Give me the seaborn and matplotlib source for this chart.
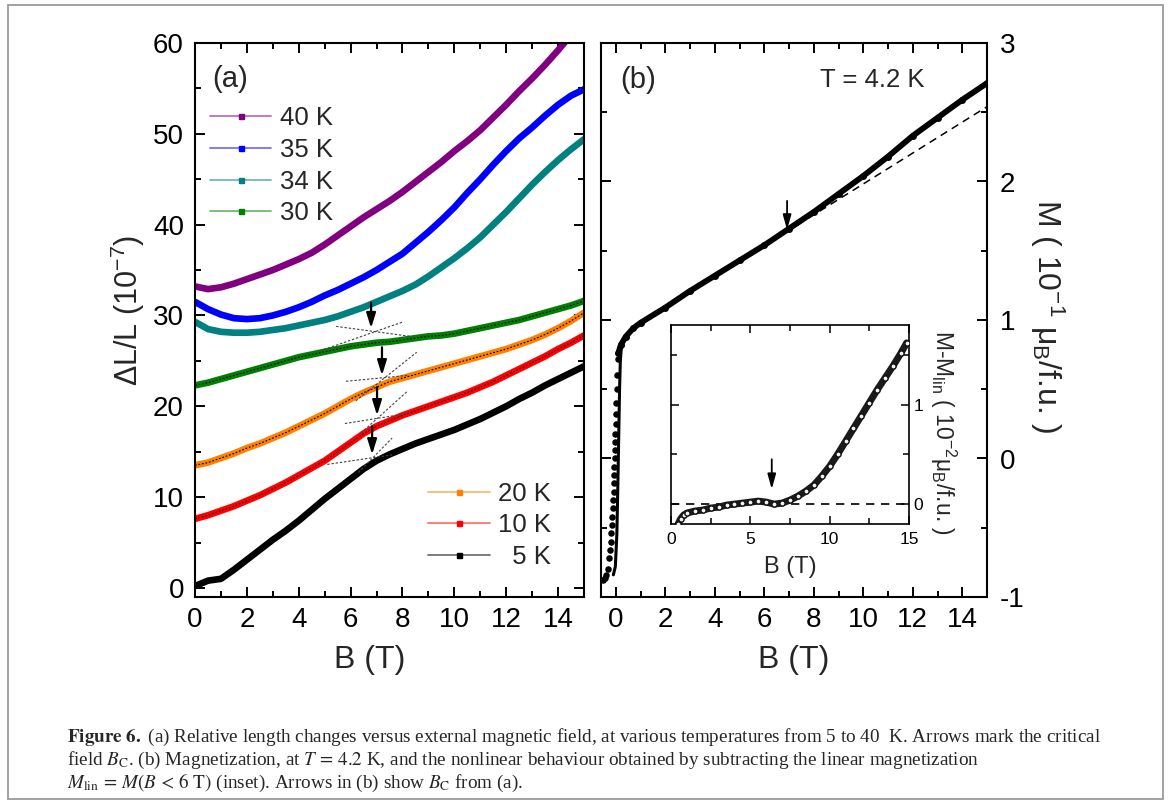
import numpy as np
import pandas as pd
import matplotlib
matplotlib.use("Agg")
import matplotlib.pyplot as plt
import seaborn as sns
from matplotlib.lines import Line2D
from matplotlib.patches import Rectangle
from matplotlib.ticker import MultipleLocator
from matplotlib.colors import to_rgba

# ---------------------------------------------------------------- data
# (a) magnetostriction dL/L (1e-7) versus field B (T)
field_a = [0.0, 0.5, 1.0, 1.5, 2.0, 2.5, 3.0, 3.5, 4.0, 4.5, 5.0, 5.5, 6.0, 6.5, 7.0, 7.5,
           8.0, 8.5, 9.0, 9.5, 10.0, 10.5, 11.0, 11.5, 12.0, 12.5, 13.0, 13.5, 14.0, 14.5, 15.0]
dll_40K = [33.2, 32.9, 33.1, 33.5, 34.0, 34.5, 35.0, 35.6, 36.2, 36.9, 37.8, 38.8, 39.8, 40.8, 41.7, 42.6,
           43.6, 44.7, 45.8, 46.9, 48.1, 49.2, 50.4, 51.8, 53.2, 54.7, 56.1, 57.6, 59.2, 60.9, 62.6]
dll_35K = [31.5, 30.7, 30.1, 29.7, 29.6, 29.7, 30.0, 30.4, 30.9, 31.5, 32.2, 32.8, 33.5, 34.2, 35.0, 35.9,
           36.8, 38.0, 39.2, 40.5, 41.9, 43.5, 45.0, 46.6, 48.1, 49.5, 50.7, 52.0, 53.2, 54.2, 54.9]
dll_34K = [29.3, 28.5, 28.2, 28.1, 28.1, 28.2, 28.4, 28.6, 28.9, 29.2, 29.5, 29.9, 30.4, 30.9, 31.5, 32.1,
           32.7, 33.4, 34.3, 35.3, 36.3, 37.4, 38.6, 40.0, 41.4, 42.9, 44.4, 45.8, 47.1, 48.3, 49.4]
dll_30K = [22.3, 22.6, 23.0, 23.4, 23.8, 24.2, 24.6, 25.0, 25.4, 25.7, 26.0, 26.3, 26.6, 26.8, 27.0, 27.1,
           27.3, 27.5, 27.7, 27.8, 28.0, 28.3, 28.6, 28.9, 29.2, 29.5, 29.9, 30.3, 30.7, 31.1, 31.6]
dll_20K = [13.5, 13.8, 14.3, 14.8, 15.4, 15.9, 16.5, 17.1, 17.8, 18.5, 19.2, 20.0, 20.8, 21.5, 22.1, 22.7,
           23.1, 23.5, 23.9, 24.3, 24.7, 25.1, 25.5, 25.9, 26.3, 26.8, 27.3, 27.9, 28.6, 29.4, 30.3]
dll_10K = [7.6, 8.0, 8.5, 9.0, 9.6, 10.2, 10.9, 11.6, 12.4, 13.2, 14.0, 15.0, 16.0, 17.0, 17.8, 18.4,
           19.0, 19.5, 20.0, 20.5, 21.0, 21.5, 22.1, 22.7, 23.4, 24.1, 24.8, 25.5, 26.3, 27.0, 27.8]
dll_5K = [0.2, 0.8, 1.0, 2.0, 3.1, 4.2, 5.3, 6.3, 7.4, 8.6, 9.8, 10.9, 12.0, 13.1, 14.0, 14.7,
          15.3, 15.9, 16.4, 16.9, 17.4, 18.0, 18.6, 19.3, 20.0, 20.8, 21.5, 22.3, 23.0, 23.7, 24.4]

temp_labels = ["40 K", "35 K", "34 K", "30 K", "20 K", "10 K", "  5 K"]
temp_colors = ["#800080", "#0000ff", "#008080", "#008000", "#ff8000", "#ff0000", "#000000"]
fitted_temps = ["30 K", "20 K", "10 K"]

# critical-field arrows (B, start, end) and tangent construction lines
bc_arrows_a = [(6.79, 31.4, 28.6), (7.21, 26.5, 23.4), (7.02, 22.1, 19.0), (6.83, 17.8, 14.7)]
bc_tangents_a = [
    ((5.44, 8.30), (28.8, 27.7)), ((4.82, 8.03), (26.1, 29.3)),
    ((5.82, 8.20), (22.75, 23.4)), ((6.20, 8.55), (20.6, 25.95)),
    ((5.78, 8.20), (18.1, 19.2)), ((6.40, 8.21), (17.05, 21.7)),
    ((5.10, 7.60), (13.6, 14.65)), ((6.30, 7.60), (12.7, 16.5)),
]

# (b) magnetization M (1e-1 muB/f.u.) at 4.2 K
m_step_b = [-0.50, -0.44, -0.38, -0.32, -0.26, -0.22, -0.20, -0.18, -0.16, -0.14, -0.12, -0.10, -0.09,
            -0.08, -0.07, -0.06, -0.05, -0.04, -0.03, -0.02, -0.01, 0.00, 0.02, 0.04, 0.06, 0.08]
m_step = [-0.88, -0.86, -0.84, -0.80, -0.72, -0.66, -0.60, -0.54, -0.48, -0.42, -0.36, -0.30, -0.24,
          -0.18, -0.12, -0.06, 0.00, 0.06, 0.12, 0.18, 0.25, 0.32, 0.40, 0.50, 0.60, 0.72]
m_rise_b = [-0.10, -0.02, 0.04, 0.08, 0.12, 0.15, 0.18, 0.22]
m_rise = [-0.84, -0.78, -0.55, -0.20, 0.20, 0.50, 0.70, 0.80]
m_main_b = [0.10, 0.20, 0.40, 0.70, 1.0, 2.0, 3.0, 4.0, 5.0, 6.0, 7.0, 8.0, 9.0, 10.0, 11.0, 12.0,
            13.0, 14.0, 15.0]
m_main = [0.76, 0.82, 0.88, 0.94, 0.98, 1.09, 1.21, 1.32, 1.43, 1.54, 1.66, 1.78, 1.91, 2.04, 2.18,
          2.33, 2.46, 2.59, 2.71]
m_lin_b = [2.0, 15.0]
m_lin = [1.09, 2.54]
bc_arrow_b = (6.92, 1.86, 1.65)

# inset: M - M_lin (1e-2 muB/f.u.)
dm_b = [0.45, 0.6, 0.8, 1.0, 1.5, 2.0, 2.5, 3.0, 3.5, 4.0, 4.5, 5.0, 5.5, 6.0, 6.5, 7.0, 7.5, 8.0,
        8.5, 9.0, 9.5, 10.0, 10.5, 11.0, 11.5, 12.0, 12.5, 13.0, 13.5, 14.0, 14.5, 14.85]
dm = [-0.20, -0.15, -0.11, -0.09, -0.07, -0.06, -0.04, -0.03, -0.01, 0.00, 0.01, 0.02, 0.03, 0.02,
      0.00, 0.01, 0.04, 0.08, 0.13, 0.19, 0.28, 0.38, 0.50, 0.63, 0.76, 0.89, 1.02, 1.15, 1.27, 1.39,
      1.52, 1.62]
bc_arrow_in = (6.35, 0.45, 0.15)

caption_lines = [
    r"$\mathbf{Figure\ 6.}$ (a) Relative length changes versus external magnetic field, at various "
    r"temperatures from 5 to 40  K. Arrows mark the critical",
    r"field $B_\mathrm{C}$. (b) Magnetization, at $T\,=\,4.2$ K, and the nonlinear behaviour obtained "
    r"by subtracting the linear magnetization",
    r"$M_\mathrm{lin}\,=\,M(B\,<\,6\ \mathrm{T})$ (inset). Arrows in (b) show $B_\mathrm{C}$ from (a).",
]

# ---------------------------------------------------------------- style
sns.set_style("ticks")
plt.rcParams.update({
    "font.family": ["Liberation Sans", "DejaVu Sans"],
    "mathtext.fontset": "custom",
    "mathtext.rm": "Liberation Sans",
    "mathtext.it": "Liberation Sans:italic",
    "mathtext.bf": "Liberation Sans:bold",
    "axes.unicode_minus": False,
    "axes.linewidth": 1.5,
    "axes.edgecolor": "black",
    "xtick.color": "black",
    "ytick.color": "black",
})

W, H = 1171, 805
fig = plt.figure(figsize=(W / 100, H / 100), dpi=100)
ax_a = fig.add_axes([195 / W, 1 - 597 / H, 389 / W, 554 / H])
ax_b = fig.add_axes([601 / W, 1 - 597 / H, 386 / W, 554 / H])
ax_in = fig.add_axes([671 / W, 1 - 524 / H, 238 / W, 199 / H])


def style_ticks(ax, size, pad):
    ax.tick_params(which="both", direction="in", top=True, right=True, width=1.4,
                   labelsize=size, pad=pad)
    ax.tick_params(which="major", length=7)
    ax.tick_params(which="minor", length=4)


# ---------------------------------------------------------------- panel (a)
series = {"40 K": dll_40K, "35 K": dll_35K, "34 K": dll_34K, "30 K": dll_30K,
          "20 K": dll_20K, "10 K": dll_10K, "  5 K": dll_5K}
df_a = pd.concat([pd.DataFrame({"B": field_a, "dLL": v, "T": k}) for k, v in series.items()],
                 ignore_index=True)

sns.lineplot(data=df_a, x="B", y="dLL", hue="T", hue_order=temp_labels, palette=temp_colors,
             linewidth=4.8, estimator=None, sort=False, legend=False, ax=ax_a)
sns.lineplot(data=df_a[df_a["T"].isin(fitted_temps)], x="B", y="dLL", units="T",
             estimator=None, sort=False, color="black", linewidth=0.8,
             linestyle=(0, (1.6, 1.6)), ax=ax_a)

for (bx, by) in bc_tangents_a:
    ax_a.plot(bx, by, color="#444444", lw=0.8, linestyle=(0, (2.2, 1.6)), zorder=4)
for (b, y0, y1) in bc_arrows_a:
    ax_a.annotate("", xy=(b, y1), xytext=(b, y0),
                  arrowprops=dict(arrowstyle="-|>,head_length=0.9,head_width=0.28",
                                  mutation_scale=10, color="black", lw=1.6,
                                  shrinkA=0, shrinkB=0), zorder=5)

ax_a.set_xlim(0, 15)
ax_a.set_ylim(-1, 60)
ax_a.xaxis.set_major_locator(MultipleLocator(2))
ax_a.xaxis.set_minor_locator(MultipleLocator(1))
ax_a.yaxis.set_major_locator(MultipleLocator(10))
ax_a.yaxis.set_minor_locator(MultipleLocator(5))
style_ticks(ax_a, 20, 7)
ax_a.tick_params(axis="y", pad=8)
ax_a.set_xlabel("")
ax_a.set_ylabel("")
ax_a.text(0.45, -0.114, "B (T)", transform=ax_a.transAxes, ha="center", va="center", fontsize=23)
ax_a.text(-0.172, 0.518, "ΔL/L (10$^{\\mathregular{-7}}$)", transform=ax_a.transAxes,
          rotation=90, ha="center", va="center", fontsize=22)
ax_a.text(0.045, 0.935, "(a)", transform=ax_a.transAxes, ha="left", va="center", fontsize=21)

handles = [Line2D([], [], color=to_rgba(c, 0.55), lw=1.3, marker="s", markersize=3.6,
                  markerfacecolor=c, markeredgecolor=c, label=t)
           for t, c in zip(temp_labels, temp_colors)]
leg_kw = dict(frameon=False, fontsize=18.5, handlelength=2.4, handletextpad=0.32,
              labelspacing=0.30, borderpad=0, borderaxespad=0, loc="upper left")
leg1 = ax_a.legend(handles=handles[:4], bbox_to_anchor=(0.038, 0.886), **leg_kw)
ax_a.add_artist(leg1)
ax_a.legend(handles=handles[4:], bbox_to_anchor=(0.599, 0.208), **leg_kw)

# ---------------------------------------------------------------- panel (b)
sns.lineplot(x=m_lin_b, y=m_lin, color="black", lw=1.1, linestyle=(0, (5, 3.5)),
             estimator=None, sort=False, ax=ax_b)
sns.lineplot(x=m_main_b, y=m_main, color="black", lw=4.2, estimator=None, sort=False,
             marker="o", markersize=5, markeredgewidth=0, ax=ax_b)
sns.lineplot(x=m_rise_b, y=m_rise, color="black", lw=2.2, estimator=None, sort=False, ax=ax_b)
sns.scatterplot(x=m_step_b, y=m_step, color="black", s=22, linewidth=0, ax=ax_b)
b, y0, y1 = bc_arrow_b
ax_b.annotate("", xy=(b, y1), xytext=(b, y0),
              arrowprops=dict(arrowstyle="-|>,head_length=0.9,head_width=0.25",
                              mutation_scale=10, color="black", lw=1.3, shrinkA=0, shrinkB=0))

ax_b.set_xlim(-0.6, 15.0)
ax_b.set_ylim(-1, 3)
ax_b.xaxis.set_major_locator(MultipleLocator(2))
ax_b.xaxis.set_minor_locator(MultipleLocator(1))
ax_b.yaxis.set_major_locator(MultipleLocator(1))
ax_b.yaxis.set_minor_locator(MultipleLocator(0.5))
style_ticks(ax_b, 20, 7)
ax_b.tick_params(axis="y", which="both", labelleft=False, labelright=True, pad=9)
ax_b.set_xlabel("")
ax_b.set_ylabel("")
ax_b.text(0.5, -0.114, "B (T)", transform=ax_b.transAxes, ha="center", va="center", fontsize=23)
ax_b.text(1.155, 0.508, "M ( 10$^{\\mathregular{-1}}$ μ$_{\\mathregular{B}}$/f.u. )",
          transform=ax_b.transAxes, rotation=270, ha="center", va="center", fontsize=23)
ax_b.text(0.05, 0.933, "(b)", transform=ax_b.transAxes, ha="left", va="center", fontsize=21)
ax_b.text(0.567, 0.933, "T = 4.2 K", transform=ax_b.transAxes, ha="left", va="center",
          fontsize=18.5)

# ---------------------------------------------------------------- inset
ax_in.set_facecolor("white")
ax_in.axhline(0, color="black", lw=1.2, linestyle=(0, (5, 4)))
sns.lineplot(x=dm_b, y=dm, color="#1a1a1a", lw=5.0, estimator=None, sort=False, ax=ax_in)
sns.scatterplot(x=dm_b, y=dm, marker="o", s=14, facecolor="#f2f2f2", edgecolor="#111111",
                linewidth=1.0, ax=ax_in, zorder=3)
b, y0, y1 = bc_arrow_in
ax_in.annotate("", xy=(b, y1), xytext=(b, y0),
               arrowprops=dict(arrowstyle="-|>,head_length=0.9,head_width=0.25",
                               mutation_scale=10, color="black", lw=1.3, shrinkA=0, shrinkB=0))
ax_in.set_xlim(0, 15)
ax_in.set_ylim(-0.2, 1.8)
ax_in.xaxis.set_major_locator(MultipleLocator(5))
ax_in.xaxis.set_minor_locator(MultipleLocator(2.5))
ax_in.yaxis.set_major_locator(MultipleLocator(1))
ax_in.yaxis.set_minor_locator(MultipleLocator(0.5))
for s in ax_in.spines.values():
    s.set_linewidth(1.2)
ax_in.tick_params(which="both", direction="in", top=True, right=True, width=1.1,
                  labelsize=12.5, pad=6)
ax_in.tick_params(which="major", length=6)
ax_in.tick_params(which="minor", length=4)
ax_in.tick_params(axis="y", labelleft=False, labelright=True, pad=3)
ax_in.set_xlabel("")
ax_in.set_ylabel("")
ax_in.text(0.5, -0.215, "B (T)", transform=ax_in.transAxes, ha="center", va="center",
           fontsize=17)
ax_in.text(1.143, 0.46, "M-M$_{\\mathregular{lin}}$ ( 10$^{\\mathregular{-2}}$μ$_{\\mathregular{B}}$/f.u. )",
           transform=ax_in.transAxes, rotation=270, ha="center", va="center", fontsize=16.5)

# ---------------------------------------------------------------- frame and caption
fig.patches.append(Rectangle((8 / W, 1 - 799 / H), 1155 / W, 794 / H, transform=fig.transFigure,
                             fill=False, edgecolor="#9a9a9a", lw=1.3))
for i, line in enumerate(caption_lines):
    fig.text(67 / W, 1 - (742 + 23 * i) / H, line, ha="left", va="baseline",
             fontsize=13.8, family="Liberation Serif", math_fontfamily="stix")

fig.savefig("out.png", dpi=100)
